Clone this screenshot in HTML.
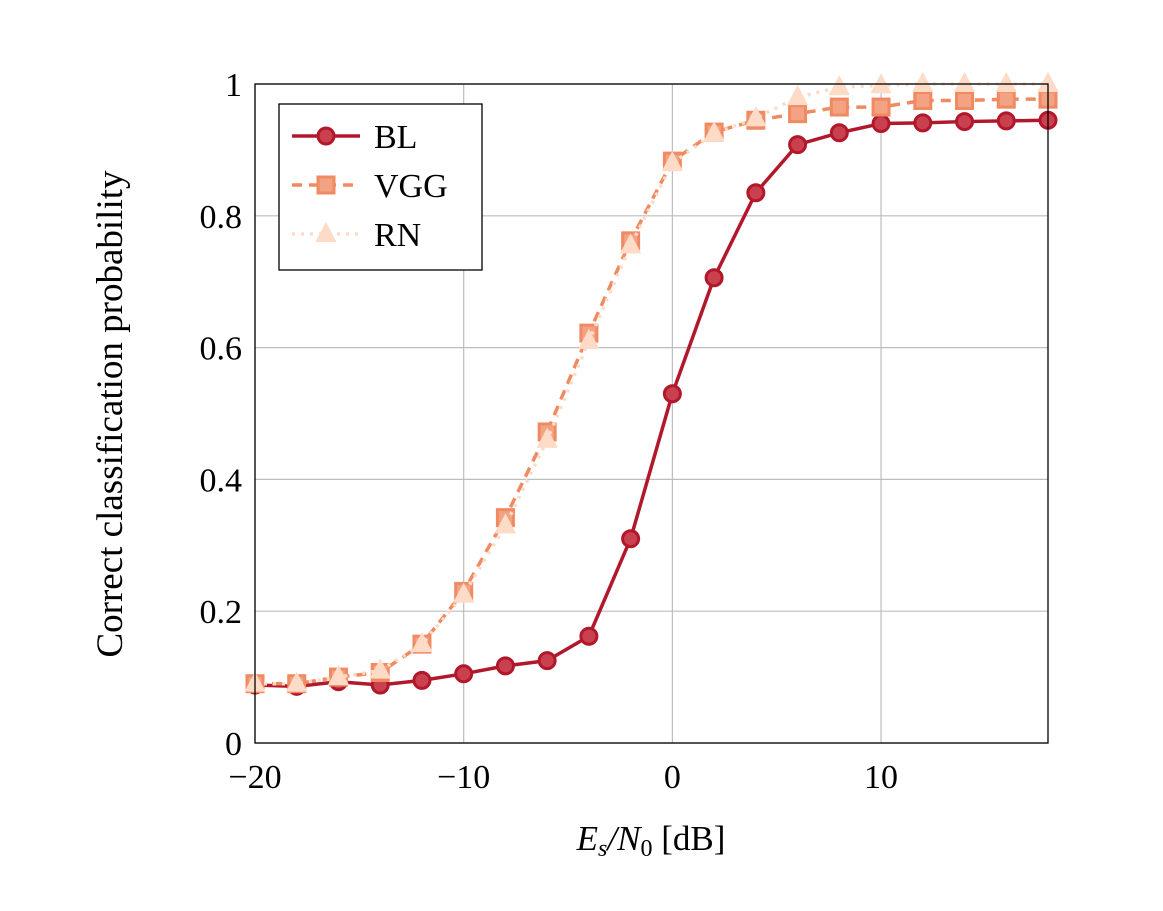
<!DOCTYPE html>
<html><head><meta charset="utf-8"><style>
body{margin:0;background:#fff;}
svg text{font-family:"Liberation Serif",serif;fill:#000;}
</style></head><body>
<svg id="chart" width="1163" height="906" viewBox="0 0 1163 906" xmlns="http://www.w3.org/2000/svg">
<g id="grid"></g>
<g id="series"></g>
<rect x="255" y="84" width="793" height="659" fill="none" stroke="#000" stroke-width="1.3"/>
<g id="ticks"></g>
<text x="651" y="850" font-size="35" text-anchor="middle"><tspan font-style="italic">E</tspan><tspan font-style="italic" font-size="24" dy="6">s</tspan><tspan dy="-6" font-style="italic">/N</tspan><tspan font-size="24" dy="6">0</tspan><tspan dy="-6"> [dB]</tspan></text>
<text transform="translate(122,414) rotate(-90)" font-size="37" text-anchor="middle">Correct classification probability</text>
<g>
<rect x="279" y="104" width="203" height="166" fill="#fff" stroke="#000" stroke-width="1.3"/>
<g id="legend-items"></g>
</g>
</svg>
<script>
const xValues=[-20,-18,-16,-14,-12,-10,-8,-6,-4,-2,0,2,4,6,8,10,12,14,16,18];
const blValues=[0.088,0.086,0.093,0.088,0.095,0.105,0.117,0.125,0.162,0.31,0.53,0.706,0.835,0.908,0.926,0.94,0.941,0.943,0.944,0.945];
const vggValues=[0.09,0.09,0.1,0.107,0.15,0.23,0.342,0.472,0.622,0.762,0.883,0.927,0.945,0.955,0.965,0.965,0.975,0.975,0.977,0.977];
const rnValues=[0.09,0.09,0.1,0.11,0.15,0.225,0.33,0.46,0.61,0.755,0.88,0.925,0.948,0.98,0.995,0.998,1.0,1.0,1.0,1.0];
const xTicks=[-20,-10,0,10];
const xTickLabels=["\u221220","\u221210","0","10"];
const yTicks=[0,0.2,0.4,0.6,0.8,1];
const yTickLabels=["0","0.2","0.4","0.6","0.8","1"];
const seriesNames=["BL","VGG","RN"];

const NS="http://www.w3.org/2000/svg";
const X0=255,X1=1048,Y0=743,Y1=84,XMIN=-20,XMAX=18;
const sx=v=>X0+(v-XMIN)/(XMAX-XMIN)*(X1-X0);
const sy=v=>Y0-v*(Y0-Y1);
function mk(tag,attrs,parent){const e=document.createElementNS(NS,tag);for(const k in attrs)e.setAttribute(k,attrs[k]);parent.appendChild(e);return e;}
const grid=document.getElementById('grid'),ticks=document.getElementById('ticks'),ser=document.getElementById('series'),leg=document.getElementById('legend-items');
xTicks.forEach((t,i)=>{
  const l=mk('line',{x1:sx(t),x2:sx(t),y1:Y0,y2:Y1,stroke:'#bdbdbd','stroke-width':1.2},grid);
  
  
  const tx=mk('text',{x:sx(t),y:788,'font-size':34,'text-anchor':'middle'},ticks);
  tx.textContent=xTickLabels[i];
  
  
});
yTicks.forEach((t,i)=>{
  const l=mk('line',{x1:X0,x2:X1,y1:sy(t),y2:sy(t),stroke:'#bdbdbd','stroke-width':1.2},grid);
  
  
  const tx=mk('text',{x:242,y:sy(t)+12,'font-size':34,'text-anchor':'end'},ticks);
  tx.textContent=yTickLabels[i];
  
  
});
const styles=[
 {vals:blValues,color:'#b2182b',dash:'',marker:'circle',w:3.5},
 {vals:vggValues,color:'#ef8a62',dash:'10,7',marker:'square',w:3.5},
 {vals:rnValues,color:'#fddbc7',dash:'3,6',marker:'triangle',w:3.5}
];
function marker(type,x,y,color,parent){
  let m;
  if(type==='circle')m=mk('circle',{cx:x,cy:y,r:8,fill:'#c9404f',stroke:color,'stroke-width':3},parent);
  else if(type==='square')m=mk('rect',{x:x-8,y:y-8,width:16,height:16,fill:'#f3a283',stroke:color,'stroke-width':3},parent);
  else m=mk('polygon',{points:`${x},${y-10} ${x-9},${y+7} ${x+9},${y+7}`,fill:'#fddbc7',stroke:color,'stroke-width':2},parent);
  return m;
}
[0,1,2].forEach(si=>{
  const s=styles[si];
  const g=mk('g',{},ser);
  
  
  const pts=xValues.map((x,i)=>sx(x)+','+sy(s.vals[i])).join(' ');
  const pl=mk('polyline',{points:pts,fill:'none',stroke:s.color,'stroke-width':s.w,'stroke-dasharray':s.dash,'stroke-linejoin':'round'},g);
  
  
  xValues.forEach((x,i)=>{
    const m=marker(s.marker,sx(x),sy(s.vals[i]),s.color,g);
    
    
  });
});
seriesNames.forEach((n,i)=>{
  const s=styles[i],y=136+i*49;
  const g=mk('g',{},leg);
  
  
  mk('line',{x1:292,x2:360,y1:y,y2:y,stroke:s.color,'stroke-width':s.w,'stroke-dasharray':s.dash},g);
  marker(s.marker,326,y,s.color,g);
  const t=mk('text',{x:374,y:y+12,'font-size':34},g);
  t.textContent=n;
});
</script>
</body></html>
